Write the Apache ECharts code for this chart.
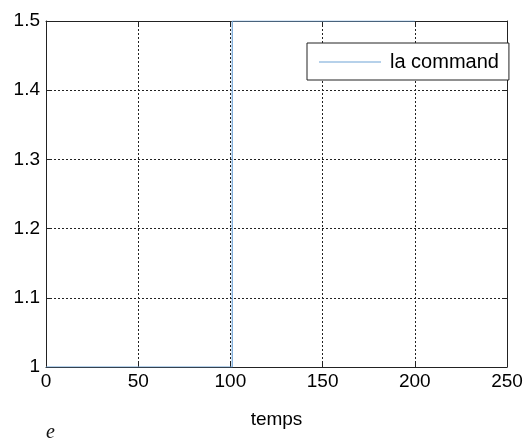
<!DOCTYPE html>
<html>
<head>
<meta charset="utf-8">
<script src="https://cdn.jsdelivr.net/npm/echarts@6/dist/echarts.min.js"></script>
<style>
  html, body { margin: 0; padding: 0; background: #fff; }
  #chart { width: 529px; height: 442px; }
</style>
</head>
<body>
<div id="chart"></div>
<script>
// Step command signal: time instants and the command level held at each
const timeValues = [0, 101, 101, 200];
const commandValues = [1, 1, 1.5, 1.5];
const xTicks = [0, 50, 100, 150, 200, 250];
const yTicks = [1, 1.1, 1.2, 1.3, 1.4, 1.5];
const seriesName = 'la command';

const font = '"Liberation Sans", Arial, sans-serif';
const points = timeValues.map((t, i) => [t, commandValues[i]]);

const gridLine = { show: true, lineStyle: { color: '#222', type: [2, 2], width: 1 } };
const frame = { show: true, onZero: false, lineStyle: { color: '#222', width: 1 } };
const ticksIn = { show: true, inside: true, length: 5, lineStyle: { color: '#222' } };

const chart = echarts.init(document.getElementById('chart'), null, { renderer: 'canvas' });
chart.setOption({
  animation: false,
  backgroundColor: '#fff',
  grid: { left: 46, right: 22, top: 21, bottom: 75 },
  legend: {
    data: [seriesName],
    left: 307, top: 43,
    width: 204,
    icon: 'rect',
    itemWidth: 62, itemHeight: 1,
    itemGap: 0,
    padding: [9, 10, 8, 12],
    borderColor: '#222', borderWidth: 1,
    backgroundColor: '#fff',
    textStyle: { fontFamily: font, fontSize: 20, color: '#000', padding: [0, 0, 0, 4] }
  },
  xAxis: [{
    type: 'value', min: 0, max: 250, interval: 50,
    axisLine: frame, axisTick: ticksIn, splitLine: gridLine,
    axisLabel: { fontFamily: font, fontSize: 19, color: '#000', margin: 5,
      formatter: v => xTicks.includes(v) ? String(v) : '' },
    name: 'temps', nameLocation: 'middle', nameGap: 43,
    nameTextStyle: { fontFamily: font, fontSize: 19, color: '#000' }
  }, {
    type: 'value', position: 'top', min: 0, max: 250, interval: 50,
    axisLine: frame, axisTick: ticksIn, splitLine: { show: false }, axisLabel: { show: false }
  }],
  yAxis: [{
    type: 'value', min: 1, max: 1.5, interval: 0.1,
    axisLine: frame, axisTick: ticksIn, splitLine: gridLine,
    axisLabel: { fontFamily: font, fontSize: 19, color: '#000', margin: 6,
      formatter: v => { const r = Math.round(v * 10) / 10; return yTicks.includes(r) ? String(r) : ''; } }
  }, {
    type: 'value', position: 'right', min: 1, max: 1.5, interval: 0.1,
    axisLine: frame, axisTick: ticksIn, splitLine: { show: false }, axisLabel: { show: false }
  }],
  series: [{
    name: seriesName,
    type: 'line',
    data: points,
    symbol: 'none',
    lineStyle: { color: '#6fa3d6', width: 1.2 },
    itemStyle: { color: '#6fa3d6' },
    z: 5
  }],
  graphic: [{
    type: 'text', left: 46, top: 423,
    style: { text: 'e', font: 'italic 20px "Liberation Serif", "DejaVu Serif", serif', fill: '#111' }
  }]
});
</script>
</body>
</html>
